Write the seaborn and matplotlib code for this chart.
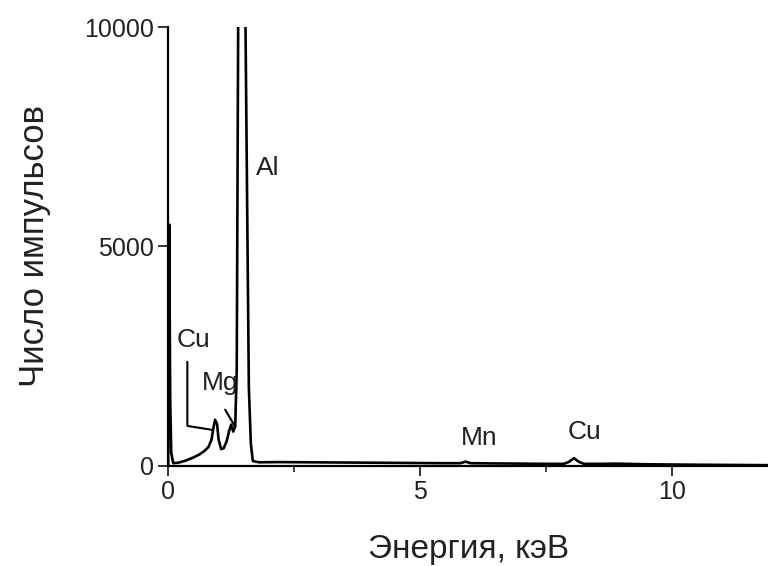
import seaborn as sns
import matplotlib.pyplot as plt
from matplotlib.ticker import MultipleLocator

sns.set_style("ticks")
plt.rcParams["font.family"] = ["Liberation Sans", "DejaVu Sans"]

# EDS spectrum (energy in keV, counts)
energy = [0.0, 0.01, 0.02, 0.04, 0.06, 0.1, 0.2, 0.35, 0.5, 0.62, 0.72, 0.8,
          0.86, 0.9, 0.93, 0.97, 1.0, 1.05, 1.1, 1.16, 1.21, 1.25, 1.29, 1.33,
          1.36, 1.39, 1.46, 1.53, 1.6, 1.64, 1.68, 1.8, 2.2, 2.8, 3.5, 4.2,
          4.8, 5.4, 5.8, 5.9, 6.0, 6.4, 7.0, 7.5, 7.85, 7.95, 8.05, 8.15, 8.25,
          8.6, 8.9, 9.5, 10.5, 11.9]
counts = [0, 3000, 5500, 1500, 300, 60, 70, 120, 190, 260, 340, 430,
          600, 880, 1050, 950, 600, 380, 400, 560, 800, 940, 780, 900,
          2200, 10500, 30000, 10500, 1800, 500, 110, 80, 85, 80, 75, 70,
          65, 60, 60, 95, 60, 55, 50, 45, 45, 90, 175, 90, 45,
          45, 50, 35, 25, 15]

labels = ["Cu", "Mg", "Al", "Mn", "Cu"]
label_x = [0.5, 1.03, 1.98, 6.17, 8.25]
label_y = [2870, 1890, 6790, 640, 775]

fig = plt.figure(figsize=(7.68, 5.66), dpi=100)
ax = fig.add_axes([0.219, 0.177, 0.781, 0.775])

sns.lineplot(x=energy, y=counts, ax=ax, color="black", linewidth=1.9,
             sort=False, estimator=None)

for t, x, y in zip(labels, label_x, label_y):
    ax.text(x, y, t, fontsize=19, ha="center", va="center", color="#222222")

# leader lines for the Cu and Mg labels
ax.plot([0.38, 0.38, 0.87], [2370, 910, 820], color="black", linewidth=1.5)
ax.plot([1.13, 1.33], [1280, 890], color="black", linewidth=1.5)

ax.set_xlim(0, 11.9)
ax.set_ylim(0, 10000)
ax.xaxis.set_major_locator(MultipleLocator(5))
ax.xaxis.set_minor_locator(MultipleLocator(2.5))
ax.set_yticks([0, 5000, 10000])
ax.tick_params(axis="both", which="major", labelsize=18, length=7, width=1.3,
               pad=3, direction="out", colors="#222222")
ax.tick_params(axis="x", which="minor", length=4, width=1.2)

ax.set_xlabel("Энергия, кэВ", fontsize=24, labelpad=22, color="#222222")
ax.set_ylabel("Число импульсов", fontsize=25, labelpad=24, color="#222222")

sns.despine(ax=ax)
for s in ["left", "bottom"]:
    ax.spines[s].set_linewidth(1.6)
    ax.spines[s].set_color("black")

fig.savefig("out.png", dpi=100)
